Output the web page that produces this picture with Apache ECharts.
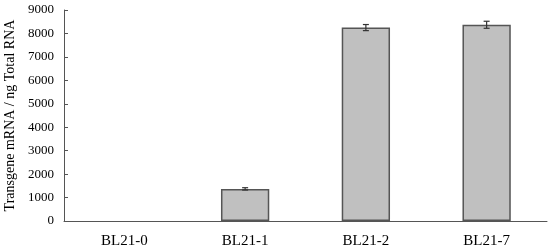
<!DOCTYPE html>
<html><head><meta charset="utf-8">
<script src="https://cdn.jsdelivr.net/npm/echarts@6/dist/echarts.min.js"></script>
<style>html,body{margin:0;padding:0;background:#fff}#c{width:550px;height:251px}</style>
</head><body><div id="c"></div>
<script>
const categories = ["BL21-0", "BL21-1", "BL21-2", "BL21-7"];
const values = [0, 1370, 8250, 8370];
const errors = [0, 50, 130, 150];
const yTitle = "Transgene mRNA / ng Total RNA";

const chart = echarts.init(document.getElementById('c'), null, {renderer: 'canvas'});
const font = "'Liberation Serif', 'DejaVu Serif', serif";
chart.setOption({
  animation: false,
  grid: {left: 64, right: 3, top: 10, bottom: 30, containLabel: false, outerBoundsMode: 'none'},
  xAxis: {
    type: 'category', data: categories,
    axisLine: {lineStyle: {color: '#555', width: 1}},
    axisTick: {inside: true, length: 4, lineStyle: {color: '#555'}},
    axisLabel: {color: '#000', fontFamily: font, fontSize: 15, margin: 13}
  },
  yAxis: {
    type: 'value', min: 0, max: 9000, interval: 1000,
    name: yTitle, nameLocation: 'middle', nameGap: 46,
    nameTextStyle: {color: '#000', fontFamily: font, fontSize: 14},
    axisLine: {show: true, lineStyle: {color: '#555', width: 1}},
    axisTick: {show: true, inside: true, length: 4, lineStyle: {color: '#555'}},
    axisLabel: {color: '#000', fontFamily: font, fontSize: 13, margin: 10,
      formatter: v => String(v)},
    splitLine: {show: false}
  },
  series: [{
    type: 'bar',
    data: values.map(v => v === 0 ? {value: v, itemStyle: {borderWidth: 0}} : v),
    barWidth: '40%',
    itemStyle: {color: '#c0c0c0', borderColor: '#555', borderWidth: 1.5}
  }, {
    type: 'custom',
    data: values.map((v, i) => [i, v, errors[i]]),
    renderItem: function (params, api) {
      const i = api.value(0), v = api.value(1), e = api.value(2);
      if (!e) return null;
      const hi = api.coord([i, v + e]);
      const lo = api.coord([i, v - e]);
      const w = 3;
      const st = {stroke: '#333', lineWidth: 1.2};
      return {type: 'group', children: [
        {type: 'line', shape: {x1: hi[0], y1: hi[1], x2: lo[0], y2: lo[1]}, style: st},
        {type: 'line', shape: {x1: hi[0]-w, y1: hi[1], x2: hi[0]+w, y2: hi[1]}, style: st},
        {type: 'line', shape: {x1: lo[0]-w, y1: lo[1], x2: lo[0]+w, y2: lo[1]}, style: st}
      ]};
    },
    z: 5
  }]
});
</script></body></html>
